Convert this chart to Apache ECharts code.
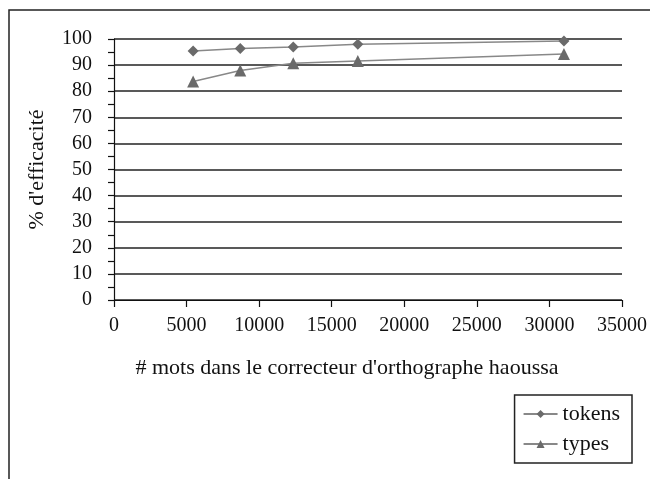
<!DOCTYPE html>
<html>
<head>
<meta charset="utf-8">
<script src="https://cdn.jsdelivr.net/npm/echarts@6/dist/echarts.min.js"></script>
<style>
  html, body { margin: 0; padding: 0; background: #fff; }
  #chart { width: 650px; height: 479px; }
</style>
</head>
<body>
<div id="chart"></div>
<script>
// données
const motsDico = [5450, 8700, 12350, 16800, 31000]
const tokens = [95.4, 96.4, 96.9, 98.0, 99.2]
const types = [83.7, 87.9, 90.7, 91.6, 94.3]

const chart = echarts.init(document.getElementById('chart'))

const serif = 'Liberation Serif'
const toPairs = ys => motsDico.map((x, i) => [x, ys[i]])

const option = {
    backgroundColor: '#fff',
    textStyle: { fontFamily: serif },
    animation: false,
    grid: { left: 114, right: 26, top: 39, bottom: 179 },
    xAxis: {
        type: 'value',
        min: 0,
        max: 35000,
        interval: 5000,
        name: "# mots dans le correcteur d'orthographe haoussa",
        nameLocation: 'middle',
        nameGap: 57,
        nameTextStyle: { fontSize: 22, color: '#111', fontFamily: serif, padding: [0, 42, 0, 0] },
        axisLine: { lineStyle: { color: '#111', width: 1.2 } },
        axisTick: { length: 7, lineStyle: { color: '#111', width: 1.2 } },
        axisLabel: { fontSize: 20, color: '#111', fontFamily: serif, margin: 16, formatter: v => String(v) },
        splitLine: { show: false }
    },
    yAxis: {
        type: 'value',
        min: 0,
        max: 100,
        interval: 10,
        name: "% d'efficacité",
        nameLocation: 'middle',
        nameGap: 66,
        nameTextStyle: { fontSize: 22, color: '#111', fontFamily: serif },
        axisLine: { show: true, lineStyle: { color: '#111', width: 1.2 } },
        axisTick: { show: true, length: 6, lineStyle: { color: '#111', width: 1.2 } },
        minorTick: { show: true, splitNumber: 2, length: 6, lineStyle: { color: '#111', width: 1.2 } },
        axisLabel: { fontSize: 20, color: '#111', fontFamily: serif, margin: 22 },
        splitLine: { show: true, lineStyle: { color: '#222', width: 1.5 } }
    },
    legend: {
        orient: 'vertical',
        right: 18,
        top: 395,
        itemWidth: 34,
        itemHeight: 10,
        itemGap: 8,
        padding: [8, 12, 8, 8],
        borderColor: '#222',
        borderWidth: 1.5,
        textStyle: { fontSize: 22, color: '#111', fontFamily: serif },
        data: ['tokens', 'types']
    },
    series: [
        {
            name: 'tokens',
            type: 'line',
            data: toPairs(tokens),
            symbol: 'diamond',
            symbolSize: 11,
            lineStyle: { color: '#888', width: 1.5 },
            itemStyle: { color: '#6a6a6a' }
        },
        {
            name: 'types',
            type: 'line',
            data: toPairs(types),
            symbol: 'triangle',
            symbolSize: 12,
            lineStyle: { color: '#888', width: 1.5 },
            itemStyle: { color: '#6a6a6a' }
        }
    ],
    graphic: [
        {
            type: 'rect',
            shape: { x: 9, y: 10, width: 660, height: 490 },
            style: { fill: null, stroke: '#222', lineWidth: 1.5 },
            silent: true
        }
    ]
}

chart.setOption(option)
</script>
</body>
</html>
